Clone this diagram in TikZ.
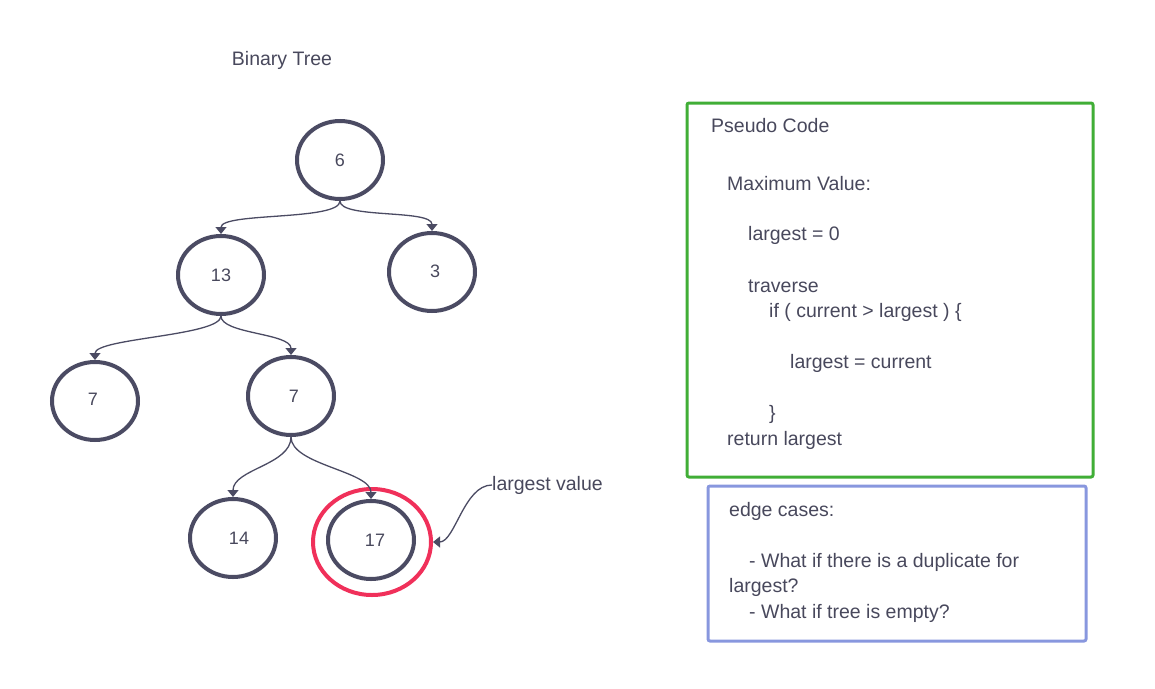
\documentclass[tikz,border=0pt]{standalone}
\usepackage{fontspec}
\setmainfont{Liberation Sans}
\usetikzlibrary{arrows.meta,shapes.geometric}
\definecolor{ink}{RGB}{75,75,99}
\definecolor{txt}{RGB}{72,72,92}
\definecolor{hl}{RGB}{240,48,90}
\definecolor{gbox}{RGB}{64,174,54}
\definecolor{bbox}{RGB}{136,151,222}
\begin{document}
\begin{tikzpicture}[x=1pt,y=-1pt,
  treenode/.style={ellipse,draw=ink,line width=4pt,minimum width=86pt,minimum height=78pt,inner sep=0pt,text=txt,font=\fontsize{18}{21}\selectfont},
  edge/.style={draw=ink,line width=1.3pt,-{Triangle[width=11pt,length=7pt]}},
  lbl/.style={anchor=west,inner sep=0pt,text=txt,font=\fontsize{19.5}{22}\selectfont},
  frame/.style={draw,line width=3pt,rounded corners=2pt,inner sep=0pt}]
\useasboundingbox (0,0) rectangle (1155,688);
% title
\node[lbl,anchor=center] (title) at (282,60) {Binary Tree};
% tree
\node[treenode] (n6)  at (340,160) {6};
\node[treenode] (n13) at (221,275) {13};
\node[treenode] (n3)  at (432,272) {\raisebox{2pt}{\hspace{6pt}3}};
\node[treenode] (n7a) at (95,401)  {\raisebox{3pt}{7\hspace{4pt}}};
\node[treenode] (n7b) at (291,396) {\hspace{6pt}7};
\node[treenode] (n14) at (233,538) {\hspace{12pt}14};
\node[treenode] (n17) at (371,540) {\hspace{8pt}17};
\node[ellipse,draw=hl,line width=4pt,minimum width=118pt,minimum height=106pt,inner sep=0pt] (hlc) at (372,542) {};
\draw[edge] (n6.south) .. controls +(0,20) and +(0,-22) .. (n13.north);
\draw[edge] (n6.south) .. controls +(0,18) and +(0,-22) .. (n3.north);
\draw[edge] (n13.south) .. controls +(0,20) and +(0,-22) .. (n7a.north);
\draw[edge] (n13.south) .. controls +(0,18) and +(0,-22) .. (n7b.north);
\draw[edge] (n7b.south) .. controls +(0,28) and +(0,-28) .. (n14.north);
\draw[edge] (n7b.south) .. controls +(0,28) and +(0,-28) .. (n17.north);
% largest value
\node[lbl] (lv) at (492,485) {largest value};
\draw[edge] (lv.west) .. controls +(-28,0) and +(22,0) .. (hlc.east);
% pseudo code box
\node[frame,draw=gbox,minimum width=406pt,minimum height=374pt] (pc) at (890,290) {};
\node[lbl] (p1) at (711,126) {Pseudo Code};
\node[lbl] (p2) at (727,184) {Maximum Value:};
\node[lbl] (p3) at (748,235) {largest = 0};
\node[lbl] (p4) at (748,286) {traverse};
\node[lbl] (p5) at (769,312) {if ( current > largest ) \{};
\node[lbl] (p6) at (790,363) {largest = current};
\node[lbl] (p7) at (769,414) {\}};
\node[lbl] (p8) at (727,440) {return largest};
% edge cases box
\node[frame,draw=bbox,minimum width=378pt,minimum height=155pt] (ec) at (897,563.5) {};
\node[lbl] (e1) at (729,511) {edge cases:};
\node[lbl] (e2) at (749,562) {- What if there is a duplicate for};
\node[lbl] (e3) at (729,587) {largest?};
\node[lbl] (e4) at (749,613) {- What if tree is empty?};
\end{tikzpicture}
\end{document}
